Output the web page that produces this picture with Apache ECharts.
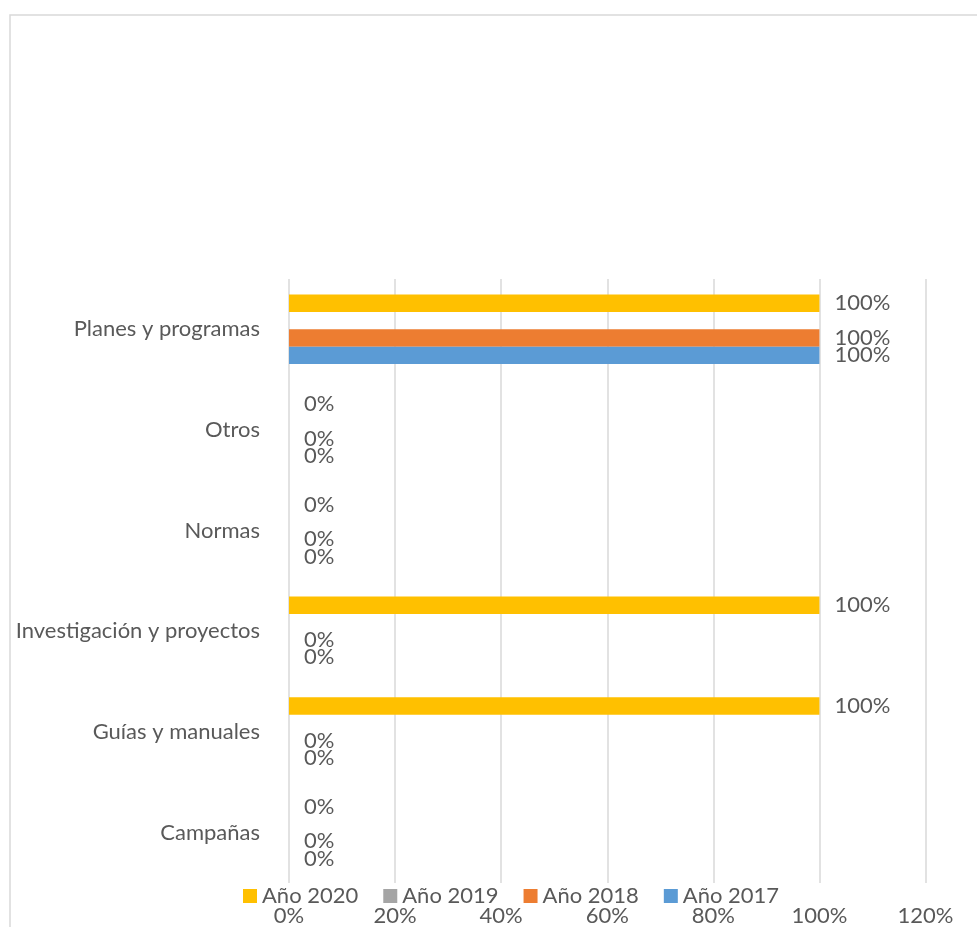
<!DOCTYPE html>
<html>
<head>
<meta charset="utf-8">
<script src="https://cdn.jsdelivr.net/npm/echarts@6/dist/echarts.min.js"></script>
<style>
html,body{margin:0;padding:0;background:#fff;}
#chart{width:977px;height:927px;}
</style>
</head>
<body>
<div id="chart"></div>
<script>
const categories = ['Campañas', 'Guías y manuales', 'Investigación y proyectos', 'Normas', 'Otros', 'Planes y programas'];
const seriesNames = ['Año 2020', 'Año 2019', 'Año 2018', 'Año 2017'];
const values2020 = [0, 1, 1, 0, 0, 1];
const values2019 = [null, null, null, null, null, null];
const values2018 = [0, 0, 0, 0, 0, 1];
const values2017 = [0, 0, 0, 0, 0, 1];
const xTicks = [0, 0.2, 0.4, 0.6, 0.8, 1.0, 1.2];
const colors = ['#FFC000', '#A5A5A5', '#ED7D31', '#5B9BD5'];

const FONT = 'Lato';
const TXT = '#595959';
const FS = 22;

const allValues = [values2020, values2019, values2018, values2017];
const series = seriesNames.map((name, i) => ({
  name: name,
  type: 'bar',
  data: allValues[i],
  itemStyle: { color: colors[i] },
  barGap: '0%',
  barCategoryGap: '31%',
  label: {
    show: true,
    position: 'right',
    distance: 15,
    color: TXT,
    fontFamily: FONT,
    fontSize: FS,
    formatter: p => Math.round(p.value * 100) + '%'
  }
}));

const chart = echarts.init(document.getElementById('chart'));
chart.setOption({
  animation: false,
  backgroundColor: '#fff',
  graphic: [{
    type: 'rect',
    shape: { x: 10, y: 15, width: 1000, height: 1000 },
    style: { fill: 'none', stroke: '#D9D9D9', lineWidth: 1.5 },
    silent: true
  }],
  grid: { left: 289, right: 51.5, top: 279, bottom: 43, containLabel: false },
  legend: {
    data: seriesNames,
    left: 243,
    top: 885,
    padding: 0,
    icon: 'rect',
    itemWidth: 14,
    itemHeight: 14,
    itemGap: 25,
    textStyle: { color: TXT, fontFamily: FONT, fontSize: FS }
  },
  xAxis: {
    type: 'value',
    min: xTicks[0],
    max: xTicks[xTicks.length - 1],
    interval: 0.2,
    axisLine: { show: false },
    axisTick: { show: false },
    splitLine: { show: true, lineStyle: { color: '#D9D9D9', width: 1.5 } },
    axisLabel: {
      margin: 22,
      color: TXT,
      fontFamily: FONT,
      fontSize: FS,
      formatter: v => Math.round(v * 100) + '%'
    }
  },
  yAxis: {
    type: 'category',
    data: categories,
    axisLine: { show: false },
    axisTick: { show: false },
    splitLine: { show: false },
    axisLabel: { margin: 29, color: TXT, fontFamily: FONT, fontSize: FS }
  },
  series: series
});
</script>
</body>
</html>
